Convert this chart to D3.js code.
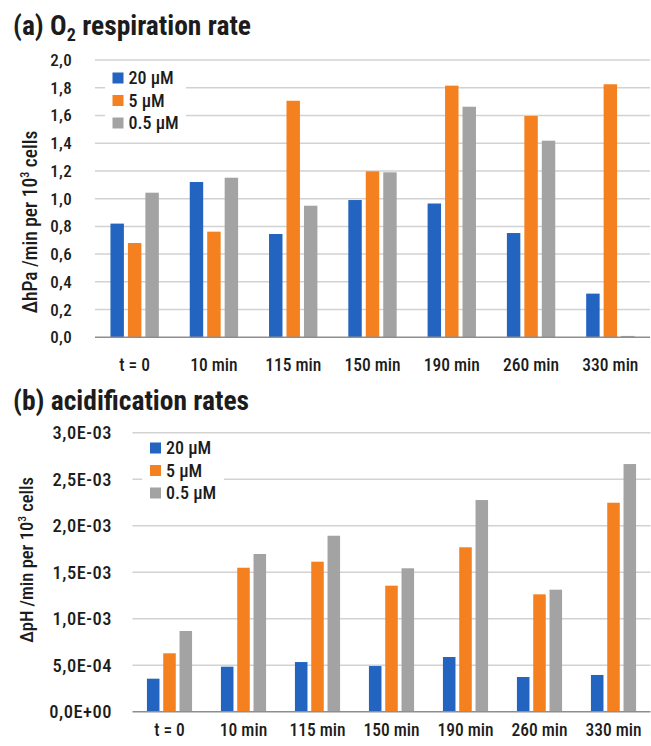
<!DOCTYPE html>
<html>
<head>
<meta charset="utf-8">
<script src="https://cdn.jsdelivr.net/npm/d3@7"></script>
<style>
  body { margin: 0; background: #fff; }
  text { font-family: "Roboto Condensed", "Liberation Sans Narrow", sans-serif; fill: #1c1c1c; }
</style>
</head>
<body>
<svg id="chart" width="651" height="746"></svg>
<script>
// Sampling times shared by both panels
const categories = ["t = 0", "10 min", "115 min", "150 min", "190 min", "260 min", "330 min"];
const seriesNames = ["20 µM", "5 µM", "0.5 µM"];
const seriesColors = ["#2364c0", "#f5801f", "#a3a3a3"];

// (a) O2 respiration rate, ΔhPa/min per 10^3 cells
const o2_20uM  = [0.82, 1.12, 0.745, 0.99, 0.965, 0.752, 0.315];
const o2_5uM   = [0.68, 0.762, 1.706, 1.197, 1.815, 1.596, 1.825];
const o2_05uM  = [1.043, 1.151, 0.949, 1.19, 1.663, 1.418, 0.01];
const o2TickValues = [0, 0.2, 0.4, 0.6, 0.8, 1.0, 1.2, 1.4, 1.6, 1.8, 2.0];
const o2TickLabels = ["0,0", "0,2", "0,4", "0,6", "0,8", "1,0", "1,2", "1,4", "1,6", "1,8", "2,0"];

// (b) acidification rate, ΔpH/min per 10^3 cells
const acid_20uM = [0.355e-3, 0.484e-3, 0.534e-3, 0.491e-3, 0.588e-3, 0.373e-3, 0.395e-3];
const acid_5uM  = [0.628e-3, 1.548e-3, 1.613e-3, 1.355e-3, 1.768e-3, 1.262e-3, 2.247e-3];
const acid_05uM = [0.868e-3, 1.696e-3, 1.892e-3, 1.542e-3, 2.276e-3, 1.312e-3, 2.663e-3];
const acidTickValues = [0, 0.5e-3, 1.0e-3, 1.5e-3, 2.0e-3, 2.5e-3, 3.0e-3];
const acidTickLabels = ["0,0E+00", "5,0E-04", "1,0E-03", "1,5E-03", "2,0E-03", "2,5E-03", "3,0E-03"];

const svg = d3.select("#chart");

function drawPanel(cfg) {
  const g = svg.append("g");
  const rows = categories.map((c, i) => ({ cat: c, vals: cfg.series.map(s => s[i]) }));

  const x0 = d3.scaleBand().domain(categories).range([cfg.left, cfg.right])
    .paddingInner(0.39).paddingOuter(0.195);
  const x1 = d3.scaleBand().domain(d3.range(seriesNames.length)).range([0, x0.bandwidth()])
    .paddingInner(0.23);
  const y = d3.scaleLinear().domain(cfg.domain).range([cfg.bottom, cfg.top]);

  // panel title
  const title = g.append("text").attr("x", 13).attr("y", cfg.titleY)
    .attr("font-size", 27.5).attr("font-weight", 700);
  cfg.title(title);

  // value axis labels
  const yAxis = d3.axisLeft(y).tickValues(cfg.tickValues)
    .tickFormat((d, i) => cfg.tickLabels[i]).tickSize(0).tickPadding(0);
  const ya = g.append("g").attr("transform", `translate(${cfg.labelRight},0)`).call(yAxis);
  ya.select(".domain").remove();
  ya.selectAll("text").attr("font-size", cfg.tickFont).attr("font-weight", 500)
    .attr("letter-spacing", cfg.tickSpacing).attr("font-family", null).attr("fill", "#1c1c1c");

  // horizontal gridlines
  g.append("g").selectAll("line").data(cfg.tickValues.slice(1)).join("line")
    .attr("x1", cfg.left).attr("x2", cfg.right)
    .attr("y1", d => y(d)).attr("y2", d => y(d))
    .attr("stroke", "#d2d2d2").attr("stroke-width", 1.5);

  // legend with white backing over the gridlines
  const lg = g.append("g");
  lg.append("rect").attr("x", cfg.legend.x).attr("y", cfg.legend.y)
    .attr("width", cfg.legend.w).attr("height", cfg.legend.h).attr("fill", "#fff");
  seriesNames.forEach((name, i) => {
    const cy = cfg.legend.y0 + i * 22.5;
    lg.append("rect").attr("x", cfg.legend.sx).attr("y", cy - 5.5)
      .attr("width", 11).attr("height", 11).attr("fill", seriesColors[i]);
    lg.append("text").attr("x", cfg.legend.sx + 16).attr("y", cy).attr("dy", "0.36em")
      .attr("font-size", cfg.legendFont).attr("font-weight", 500).text(name);
  });

  // bars
  const groups = g.append("g").selectAll("g").data(rows).join("g")
    .attr("transform", d => `translate(${x0(d.cat)},0)`);
  groups.selectAll("rect").data(d => d.vals.map((v, k) => ({ v, k }))).join("rect")
    .attr("x", d => x1(d.k)).attr("width", x1.bandwidth())
    .attr("y", d => y(d.v)).attr("height", d => y(0) - y(d.v))
    .attr("fill", d => seriesColors[d.k]);

  // baseline
  g.append("line").attr("x1", cfg.left).attr("x2", cfg.right)
    .attr("y1", y(0)).attr("y2", y(0)).attr("stroke", "#8e8e8e").attr("stroke-width", 1.5);

  // category axis
  const xAxis = d3.axisBottom(x0).tickSize(0).tickPadding(0);
  const xa = g.append("g").attr("transform", `translate(0,${cfg.catY})`).call(xAxis);
  xa.select(".domain").remove();
  xa.selectAll("text").attr("font-size", cfg.catFont).attr("font-weight", 500)
    .attr("font-family", null).attr("fill", "#1c1c1c").attr("dy", 0);

  // y axis title
  const yt = g.append("text")
    .attr("transform", `translate(${cfg.ytX},${cfg.ytY}) rotate(-90)`)
    .attr("text-anchor", "middle").attr("font-size", cfg.ytFont).attr("font-weight", 500);
  yt.append("tspan").text(cfg.ytPrefix + " /min per 10");
  yt.append("tspan").attr("font-size", cfg.ytFont * 0.62).attr("dy", -cfg.ytFont * 0.4).text("3");
  yt.append("tspan").attr("dy", cfg.ytFont * 0.4).text(" cells");
}

drawPanel({
  series: [o2_20uM, o2_5uM, o2_05uM],
  domain: [0, 2], tickValues: o2TickValues, tickLabels: o2TickLabels,
  left: 95, right: 650, top: 60, bottom: 337.3,
  labelRight: 72, tickFont: 17, tickSpacing: 0.3, catFont: 17.5, legendFont: 18, ytFont: 19.5,
  catY: 371, titleY: 35,
  ytX: 37, ytY: 222, ytPrefix: "ΔhPa",
  legend: { x: 105, y: 66, w: 81, h: 66, y0: 78, sx: 112.5 },
  title: t => {
    t.append("tspan").text("(a) O");
    t.append("tspan").attr("font-size", 18).attr("dy", 6).text("2");
    t.append("tspan").attr("dy", -6).text(" respiration rate");
  }
});

drawPanel({
  series: [acid_20uM, acid_5uM, acid_05uM],
  domain: [0, 3e-3], tickValues: acidTickValues, tickLabels: acidTickLabels,
  left: 132.5, right: 650.5, top: 432.7, bottom: 711.7,
  labelRight: 112, tickFont: 18.5, tickSpacing: 0.5, catFont: 17.5, legendFont: 18, ytFont: 18.5,
  catY: 736, titleY: 410,
  ytX: 33, ytY: 560, ytPrefix: "ΔpH",
  legend: { x: 142, y: 437, w: 82, h: 68, y0: 448, sx: 150 },
  title: t => t.text("(b) acidification rates")
});
</script>
</body>
</html>
